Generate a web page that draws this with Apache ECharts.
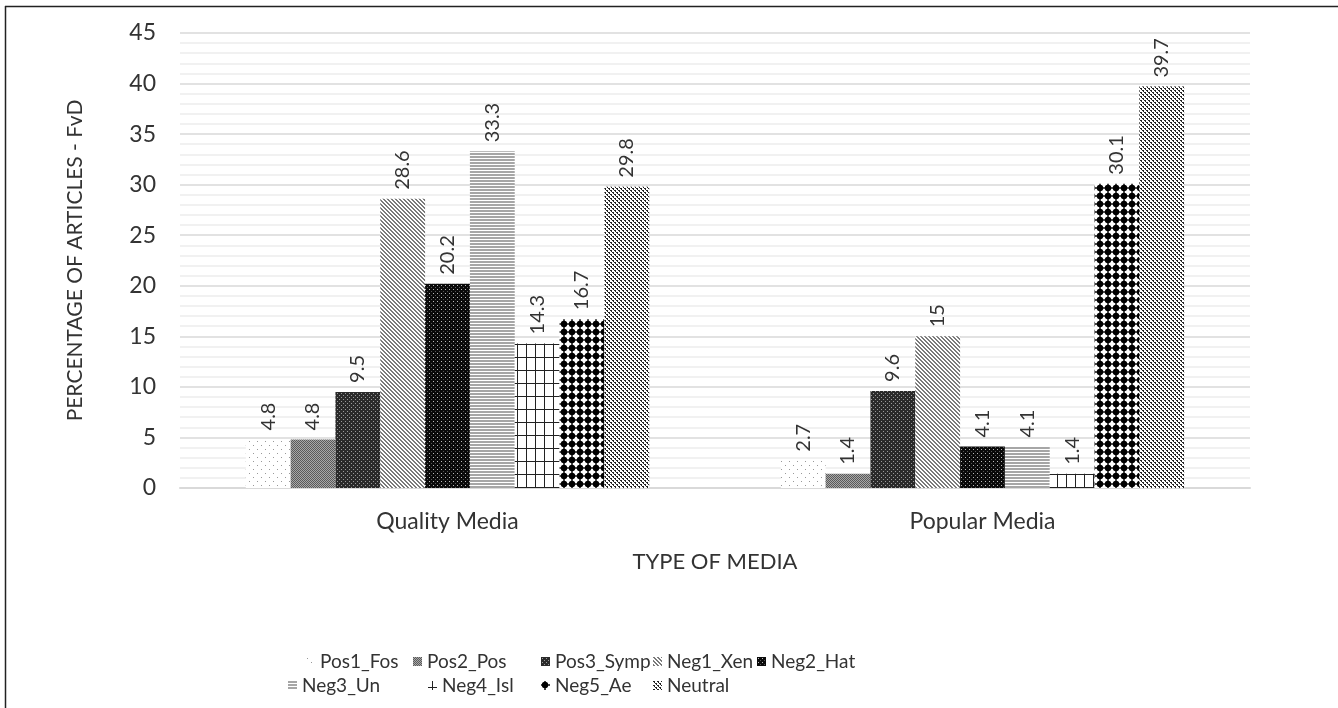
<!DOCTYPE html>
<html><head><meta charset="utf-8">
<script src="https://cdn.jsdelivr.net/npm/echarts@6/dist/echarts.min.js"></script>
<style>html,body{margin:0;padding:0;background:#fff}#c{width:1338px;height:708px}</style>
</head><body><div id="c"></div>
<script>
const categories = ['Quality Media', 'Popular Media'];
const seriesNames = ['Pos1_Fos','Pos2_Pos','Pos3_Symp','Neg1_Xen','Neg2_Hat','Neg3_Un','Neg4_Isl','Neg5_Ae','Neutral'];
const pos1 = [4.8, 2.7];
const pos2 = [4.8, 1.4];
const pos3 = [9.5, 9.6];
const neg1 = [28.6, 15];
const neg2 = [20.2, 4.1];
const neg3 = [33.3, 4.1];
const neg4 = [14.3, 1.4];
const neg5 = [16.7, 30.1];
const neutral = [29.8, 39.7];
const yTicks = [0,5,10,15,20,25,30,35,40,45];
const values = [pos1,pos2,pos3,neg1,neg2,neg3,neg4,neg5,neutral];

function tile(w,h,draw){const c=document.createElement('canvas');c.width=w;c.height=h;const g=c.getContext('2d');g.fillStyle='#fff';g.fillRect(0,0,w,h);draw(g);return {image:c,repeat:'repeat'};}
function px(g,col,pts){g.fillStyle=col;pts.forEach(p=>g.fillRect(p[0],p[1],p[2]||1,p[3]||1));}
const patterns = [
  tile(8,8,g=>px(g,'#999',[[1,1],[5,5]])),
  tile(2,2,g=>{px(g,'#5a5a5a',[[0,0],[1,1]]);px(g,'#a8a8a8',[[1,0],[0,1]]);}),
  tile(4,4,g=>{g.fillStyle='#2a2a2a';g.fillRect(0,0,4,4);px(g,'#9a9a9a',[[1,1],[3,3]]);}),
  tile(4,4,g=>{for(let i=0;i<4;i++){px(g,'#7a7a7a',[[i,i],[(i+1)%4,i]]);}}),
  tile(4,4,g=>{g.fillStyle='#0a0a0a';g.fillRect(0,0,4,4);px(g,'#bbb',[[1,1]]);px(g,'#555',[[3,3]]);}),
  tile(1,3,g=>px(g,'#a6a6a6',[[0,0],[0,1]])),
  tile(9,13,g=>{px(g,'#222',[[4,0,1,13],[0,6,9,1]]);}),
  tile(8,8,g=>{g.fillStyle='#000';g.beginPath();g.arc(4,4,3.2,0,Math.PI*2);g.fill();g.fillRect(3,0.3,2,7.4);g.fillRect(0.3,3,7.4,2);}),
  tile(4,4,g=>px(g,'#222',[[0,0,2,1],[1,1,1,1],[2,2,2,1],[3,3,1,1]]))
];

const txt = '#333';
const font = 'Lato';
const series = seriesNames.map((n,i)=>({
  name:n, type:'bar', data:values[i], barGap:0, barCategoryGap:'24.6%',
  itemStyle:{color:patterns[i]},
  label:{show:true, position:'top', rotate:90, align:'left', verticalAlign:'middle', distance:9,
         color:txt, fontFamily:font, fontSize:20}
}));

const legendPos = [[306,652],[413,652],[541,652],[653,652],[757,652],[288,676],[428,676],[541,676],[653,676]];
const legends = seriesNames.map((n,i)=>({data:[n], left:legendPos[i][0], top:legendPos[i][1], itemWidth:9, itemHeight:9,
  icon:'rect', padding:0, textStyle:{color:txt, fontFamily:font, fontSize:19}, selectedMode:false}));

const chart = echarts.init(document.getElementById('c'), null, {renderer:'canvas'});
chart.setOption({
  animation:false,
  backgroundColor:'#fff',
  grid:{left:180, right:88, top:33, bottom:220},
  legend:legends,
  xAxis:{type:'category', data:categories,
    axisLine:{lineStyle:{color:'#d9d9d9', width:2}}, axisTick:{show:false},
    axisLabel:{color:txt, fontFamily:font, fontSize:23, margin:22},
    name:'TYPE OF MEDIA', nameLocation:'middle', nameGap:63,
    nameTextStyle:{color:txt, fontFamily:font, fontSize:22}},
  yAxis:{type:'value', min:yTicks[0], max:yTicks[yTicks.length-1], interval:5,
    axisLine:{show:false}, axisTick:{show:false},
    axisLabel:{color:txt, fontFamily:font, fontSize:23, margin:24},
    splitLine:{lineStyle:{color:'#d9d9d9', width:1.5}},
    minorTick:{show:false, splitNumber:5},
    minorSplitLine:{show:true, lineStyle:{color:'#ededed', width:1.5}},
    name:'PERCENTAGE OF ARTICLES - FvD', nameLocation:'middle', nameGap:94,
    nameTextStyle:{color:txt, fontFamily:font, fontSize:21}},
  graphic:[
    {type:'line', shape:{x1:5.5,y1:6,x2:5.5,y2:708}, style:{stroke:'#222', lineWidth:1.5}, silent:true},
    {type:'line', shape:{x1:5,y1:6.5,x2:1338,y2:6.5}, style:{stroke:'#222', lineWidth:1.5}, silent:true}
  ],
  series:series
});
</script></body></html>
